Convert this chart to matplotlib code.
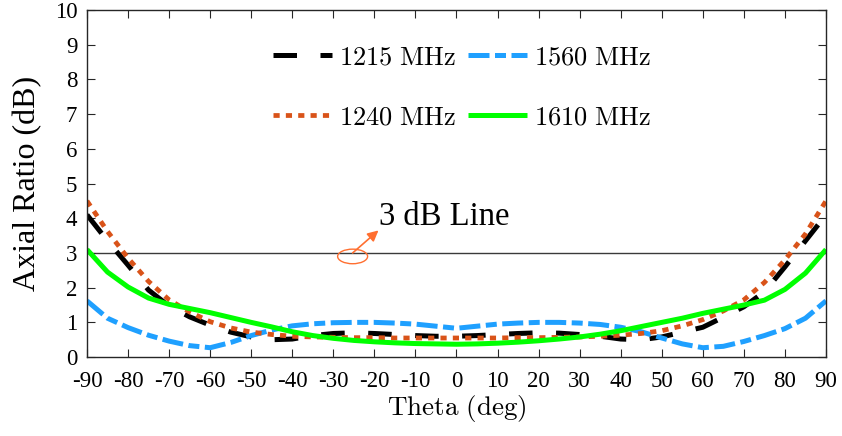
import matplotlib
matplotlib.use("Agg")
import matplotlib.pyplot as plt
from matplotlib.patches import Ellipse

plt.rcParams['axes.unicode_minus'] = False
plt.rcParams['mathtext.fontset'] = 'cm'

theta = list(range(-90, 91, 5))

ar_1215 = [4.10, 3.35, 2.65, 1.93, 1.47, 1.16, 0.92, 0.72, 0.58, 0.50,
           0.52, 0.62, 0.68, 0.70, 0.68, 0.65, 0.62, 0.60, 0.60, 0.62,
           0.65, 0.68, 0.70, 0.69, 0.65, 0.60, 0.52, 0.50, 0.58, 0.72,
           0.86, 1.15, 1.45, 1.88, 2.60, 3.35, 4.10]
ar_1240 = [4.50, 3.62, 2.85, 2.18, 1.65, 1.30, 1.02, 0.84, 0.72, 0.65,
           0.60, 0.58, 0.57, 0.56, 0.56, 0.55, 0.55, 0.55, 0.55, 0.55,
           0.55, 0.56, 0.56, 0.57, 0.58, 0.60, 0.63, 0.68, 0.76, 0.90,
           1.08, 1.33, 1.65, 2.15, 2.80, 3.55, 4.50]
ar_1560 = [1.62, 1.12, 0.85, 0.63, 0.46, 0.33, 0.27, 0.42, 0.62, 0.78,
           0.90, 0.96, 0.99, 1.00, 1.00, 0.98, 0.95, 0.89, 0.83, 0.89,
           0.95, 0.98, 1.00, 1.00, 0.98, 0.94, 0.86, 0.73, 0.55, 0.38,
           0.27, 0.31, 0.45, 0.62, 0.82, 1.12, 1.62]
ar_1610 = [3.10, 2.45, 2.02, 1.70, 1.52, 1.40, 1.28, 1.14, 1.00, 0.87,
           0.73, 0.62, 0.54, 0.48, 0.44, 0.41, 0.39, 0.38, 0.37, 0.38,
           0.40, 0.43, 0.47, 0.52, 0.58, 0.66, 0.76, 0.88, 1.00, 1.12,
           1.26, 1.38, 1.50, 1.64, 1.95, 2.42, 3.10]

labels = ['1215 MHz', '1240 MHz', '1560 MHz', '1610 MHz']
x_ticks = list(range(-90, 91, 10))
y_ticks = list(range(0, 11))

serif = 'Liberation Serif'
axis_col = '#262626'

fig = plt.figure(figsize=(8.42, 4.36), dpi=100)
ax = fig.add_axes([0.1033, 0.181, 0.8777, 0.796])

lw = 3.6
h1, = ax.plot(theta, ar_1215, color='black', lw=lw, dashes=(4.7, 4.7),
              dash_capstyle='butt', label=r'$\mathrm{%s}$' % labels[0].replace(' ', r'\ '))
h3, = ax.plot(theta, ar_1560, color='#1FA0FF', lw=lw, dashes=(4.2, 1.1, 2.2, 1.1),
              dash_capstyle='butt', label=r'$\mathrm{%s}$' % labels[2].replace(' ', r'\ '))
h2, = ax.plot(theta, ar_1240, color='#D95319', lw=lw * 0.95, dashes=(1.3, 1.3),
              dash_capstyle='butt', label=r'$\mathrm{%s}$' % labels[1].replace(' ', r'\ '))
h4, = ax.plot(theta, ar_1610, color='#00FF00', lw=lw, solid_capstyle='butt',
              label=r'$\mathrm{%s}$' % labels[3].replace(' ', r'\ '))

# 3 dB reference line and its callout
ax.axhline(3, color='#3a3a3a', lw=1.0, zorder=1)
callout = '#FF6F30'
ax.add_patch(Ellipse((-25.3, 2.9), 7.3, 0.42, fill=False, ec=callout, lw=1.0))
ax.annotate('', xy=(-19.0, 3.65), xytext=(-25.3, 3.0),
            arrowprops=dict(arrowstyle='-|>', color=callout, lw=1.2,
                            mutation_scale=16, shrinkA=0, shrinkB=0))
ax.text(-18.8, 3.82, '3 dB Line', fontsize=23.5, family=serif, ha='left', va='baseline')

ax.set_xlim(-90, 90)
ax.set_ylim(0, 10)
ax.set_xticks(x_ticks)
ax.set_yticks(y_ticks)
ax.set_xticklabels([str(v) for v in x_ticks])
ax.tick_params(direction='in', length=5.5, width=0.8, top=True, right=True,
               colors=axis_col, labelcolor='black', labelsize=16.5)
ax.tick_params(axis='x', pad=10)
ax.tick_params(axis='y', pad=7)
for lab in ax.get_xticklabels() + ax.get_yticklabels():
    lab.set_family(serif)
for sp in ax.spines.values():
    sp.set_color(axis_col)
    sp.set_linewidth(1.0)

ax.set_xlabel(r'$\mathrm{Theta\ (deg)}$', fontsize=19.5, labelpad=1)
ax.set_ylabel('Axial Ratio (dB)', fontsize=23, family=serif, labelpad=9)

leg = ax.legend(handles=[h1, h2, h3, h4], ncol=2, frameon=False,
                loc='upper left', bbox_to_anchor=(0.234, 0.94), borderpad=0,
                fontsize=19, handlelength=2.25, handletextpad=0.25,
                columnspacing=0.45, labelspacing=1.3)

fig.savefig('out.png', dpi=100)
